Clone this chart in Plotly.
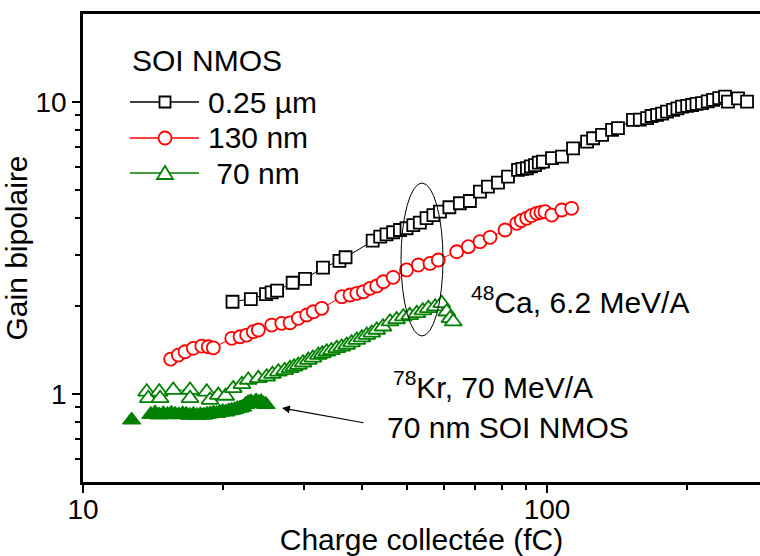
import plotly.graph_objects as go

# ---- data ----
x_025 = [21.0, 23.0, 24.8, 25.5, 26.2, 28.3, 30.1, 32.9, 35.7, 36.8, 42.1, 43.7, 45.1, 46.6,
         48.2, 49.8, 51.5, 53.2, 55.0, 56.9, 58.8, 61.6, 64.9, 68.2, 71.7, 74.6, 78.4, 82.4,
         86.6, 88.5, 90.5, 92.3, 94.2, 96.0, 98.0, 102.5, 107.7, 113.8, 122.0, 125.7, 131.4,
         138.1, 142.2, 153.2, 158.5, 164.3, 168.0, 172.7, 177.0, 181.4, 186.9, 191.0, 195.4,
         200.5, 205.4, 210.0, 215.8, 222.0, 228.0, 235.0, 241.9, 245.5, 258.0, 269.8]
y_025 = [2.07, 2.115, 2.20, 2.23, 2.26, 2.405, 2.48, 2.71, 2.855, 2.94, 3.35, 3.46, 3.52, 3.58,
         3.645, 3.695, 3.79, 3.86, 4.00, 4.10, 4.21, 4.36, 4.50, 4.58, 4.93, 5.13, 5.29, 5.55,
         5.85, 5.90, 5.93, 6.02, 6.08, 6.20, 6.25, 6.42, 6.50, 6.94, 7.31, 7.51, 7.71,
         8.02, 8.13, 8.68, 8.70, 8.80, 8.95, 9.03, 9.12, 9.26, 9.39, 9.50, 9.64,
         9.70, 9.76, 9.85, 9.90, 10.05, 10.16, 10.30, 10.43, 10.02, 10.29, 10.02]

x_130 = [15.45, 16.05, 16.59, 17.29, 18.03, 18.62, 19.09, 20.92, 21.80, 22.53, 23.28, 23.87,
         25.51, 26.81, 27.94, 29.11, 30.35, 31.36, 32.70, 36.11, 37.63, 38.91, 40.20, 41.56,
         42.95, 44.38, 46.6, 49.8, 52.8, 55.96, 58.31, 63.88, 67.67, 71.7, 75.38, 81.2, 86.05,
         88.0, 90.4, 92.5, 95.0, 97.0, 99.0, 102.4, 107.6, 113.0]
y_130 = [1.318, 1.36, 1.396, 1.434, 1.46, 1.452, 1.44, 1.552, 1.571, 1.592, 1.635, 1.657,
         1.723, 1.746, 1.754, 1.816, 1.865, 1.913, 1.966, 2.154, 2.183, 2.212, 2.24, 2.301,
         2.344, 2.424, 2.51, 2.66, 2.766, 2.80, 2.877, 3.07, 3.196, 3.323, 3.44, 3.645, 3.842,
         3.93, 4.00, 4.08, 4.157, 4.19, 4.21, 4.10, 4.267, 4.325]

x_70 = [13.72, 13.83, 14.60, 14.66, 15.65, 17.01, 17.01, 18.48, 18.78, 19.57, 20.3, 21.08,
        22.0, 22.71, 23.87, 24.88, 25.6, 26.36, 27.2, 27.94, 28.5, 29.11, 29.8, 30.59, 31.3,
        32.15, 32.8, 33.52, 34.3, 35.22, 36.1, 37.0, 37.9, 38.91, 39.9, 40.89, 41.9, 42.95,
        44.3, 45.88, 47.4, 49.0, 50.6, 52.4, 54.0, 55.5, 57.4, 59.3, 60.8, 61.8, 62.8]
y_70 = [1.018, 0.967, 1.018, 0.967, 1.032, 1.032, 0.967, 1.018, 0.954, 0.992, 0.985, 1.046,
        1.08, 1.117, 1.132, 1.146, 1.17, 1.192, 1.205, 1.225, 1.24, 1.257, 1.28, 1.307, 1.33,
        1.36, 1.375, 1.396, 1.41, 1.434, 1.45, 1.472, 1.50, 1.531, 1.56, 1.592, 1.62, 1.657,
        1.70, 1.769, 1.80, 1.84, 1.86, 1.89, 1.93, 1.966, 1.991, 2.045, 1.913, 1.816, 1.769]

x_kr = [12.73, 14.0, 14.3, 14.6, 14.9, 15.2, 15.5, 15.8, 16.1, 16.4, 16.7, 17.0, 17.3, 17.6,
        17.9, 18.2, 18.5, 18.8, 19.1, 19.4, 19.7, 20.0, 20.3, 20.6, 20.9, 21.2, 21.5, 21.8,
        22.1, 22.4, 22.7, 23.0, 23.3, 23.6, 23.9, 24.2, 24.5, 24.8]
y_kr = [0.815, 0.852, 0.862, 0.848, 0.857, 0.851, 0.86, 0.853, 0.849, 0.856, 0.852, 0.846,
        0.851, 0.845, 0.85, 0.847, 0.853, 0.856, 0.861, 0.858, 0.866, 0.871, 0.868, 0.876,
        0.88, 0.884, 0.892, 0.896, 0.903, 0.921, 0.935, 0.942, 0.928, 0.947, 0.936, 0.943,
        0.926, 0.921]

legend_title = "SOI NMOS"
names = ["0.25 µm", "130 nm", "\u00a070 nm"]
colors = ["black", "#FF0000", "#008000"]
symbols = ["square", "circle", "triangle-up"]
msizes = [12, 13, 15]

x_minor = [20, 30, 40, 50, 60, 70, 80, 90, 200]
y_minor = [0.6, 0.7, 0.8, 0.9, 2, 3, 4, 5, 6, 7, 8, 9]

FONT = "Liberation Sans, Arial, sans-serif"
TXT = 30
TICK = 28

fig = go.Figure()
for xs, ys, nm, c, s, ms in zip([x_025, x_130, x_70], [y_025, y_130, y_70],
                               names, colors, symbols, msizes):
    fig.add_trace(go.Scatter(
        x=xs, y=ys, name=nm, mode="lines+markers", showlegend=False,
        line=dict(color=c, width=1),
        marker=dict(symbol=s, size=ms, color="white", line=dict(color=c, width=1.8)),
    ))

fig.add_trace(go.Scatter(
    x=x_kr, y=y_kr, mode="markers", showlegend=False,
    marker=dict(symbol="triangle-up", size=16, color="#008000",
                line=dict(color="#008000", width=1)),
))

axis_common = dict(
    type="log", showline=True, linecolor="black", linewidth=2.5,
    ticks="outside", ticklen=8, tickwidth=2, tickcolor="black",
    showgrid=False, zeroline=False, automargin=False,
    tickfont=dict(family=FONT, size=TICK, color="black"),
)

fig.update_layout(
    width=760, height=556,
    margin=dict(l=83, r=0, t=14, b=74),
    paper_bgcolor="white", plot_bgcolor="white",
    font=dict(family=FONT, size=TXT, color="black"),
    showlegend=False,
    xaxis=dict(
        **axis_common, range=[1, 2.459], mirror=True,
        tickvals=[10, 100], ticktext=["10", "100"], ticklabelstandoff=-7,
        minor=dict(tickvals=x_minor, ticks="outside", ticklen=5, tickwidth=2, tickcolor="black"),
        title=dict(text="Charge collectée (fC)", font=dict(family=FONT, size=TXT), standoff=4),
    ),
    yaxis=dict(
        **axis_common, range=[-0.30103, 1.30103],
        tickvals=[1, 10], ticktext=["1", "10"],
        minor=dict(tickvals=y_minor, ticks="outside", ticklen=5, tickwidth=2, tickcolor="black"),
        title=dict(text="Gain bipolaire", font=dict(family=FONT, size=TXT), standoff=1),
    ),
)

# ---- hand-drawn legend (Origin style: long line with marker in the middle) ----
PX = lambda v: (v - 83) / 677.0      # pixel -> paper x
PY = lambda v: (482 - v) / 468.0     # pixel -> paper y
fig.add_annotation(xref="paper", yref="paper", x=PX(130), y=PY(61), xanchor="left",
                   yanchor="middle", showarrow=False, text=legend_title,
                   font=dict(family=FONT, size=TXT))
rows = [102, 138, 173]
for nm, c, s, row in zip(names, colors, symbols, rows):
    yy = PY(row)
    fig.add_shape(type="line", xref="paper", yref="paper", x0=PX(130), x1=PX(199),
                  y0=yy, y1=yy, line=dict(color=c, width=1.5))
    if s == "square":
        fig.add_shape(type="rect", xref="paper", yref="paper", xsizemode="pixel",
                      ysizemode="pixel", xanchor=PX(165), yanchor=yy,
                      x0=-5.5, x1=5.5, y0=-5.5, y1=5.5,
                      fillcolor="white", line=dict(color=c, width=1.8))
    elif s == "circle":
        fig.add_shape(type="circle", xref="paper", yref="paper", xsizemode="pixel",
                      ysizemode="pixel", xanchor=PX(165), yanchor=yy,
                      x0=-6.5, x1=6.5, y0=-6.5, y1=6.5,
                      fillcolor="white", line=dict(color=c, width=1.8))
    else:
        fig.add_shape(type="path", xref="paper", yref="paper", xsizemode="pixel",
                      ysizemode="pixel", xanchor=PX(165), yanchor=yy,
                      path="M-8,-6 L8,-6 L0,7 Z",
                      fillcolor="white", line=dict(color=c, width=1.8))
    fig.add_annotation(xref="paper", yref="paper", x=PX(206), y=yy, xanchor="left",
                       yanchor="middle", showarrow=False, text=nm,
                       font=dict(family=FONT, size=TXT))

fig.add_shape(type="circle", xref="paper", yref="paper",
              x0=PX(401), x1=PX(443), y0=PY(336), y1=PY(183),
              line=dict(color="black", width=1))

fig.add_annotation(xref="paper", yref="paper", x=PX(469), y=PY(300),
                   xanchor="left", yanchor="middle", showarrow=False,
                   text="<sup>48</sup>Ca, 6.2 MeV/A", font=dict(family=FONT, size=TXT))
fig.add_annotation(xref="paper", yref="paper", x=PX(391), y=PY(385),
                   xanchor="left", yanchor="middle", showarrow=False,
                   text="<sup>78</sup>Kr, 70 MeV/A", font=dict(family=FONT, size=TXT))
fig.add_annotation(xref="paper", yref="paper", x=PX(385), y=PY(427),
                   xanchor="left", yanchor="middle", showarrow=False,
                   text="70 nm SOI NMOS", font=dict(family=FONT, size=TXT))
fig.add_annotation(xref="paper", yref="paper", x=PX(282), y=PY(408),
                   ax=83, ay=15, text="", showarrow=True,
                   arrowhead=2, arrowsize=1.3, arrowwidth=1.2, arrowcolor="black")

fig.write_html("out.html", config={"displayModeBar": False},
               post_script="document.body.style.margin='0';document.body.style.overflow='hidden';")
